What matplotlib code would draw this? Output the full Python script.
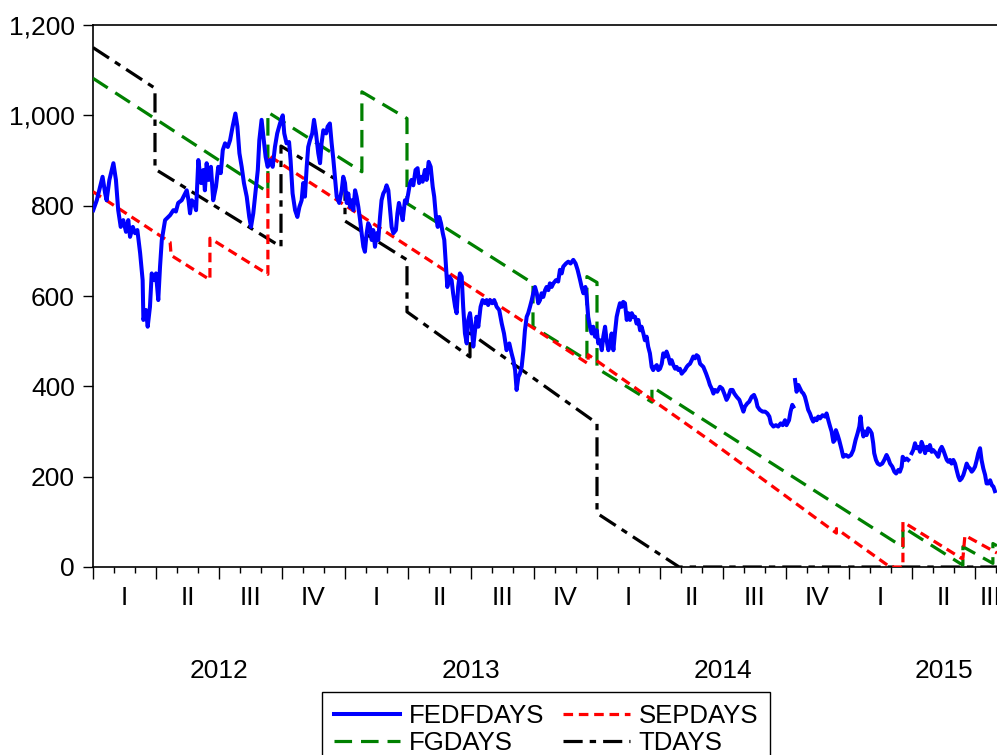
import numpy as np
import matplotlib
matplotlib.use("Agg")
import matplotlib.pyplot as plt
from matplotlib.ticker import FuncFormatter, FixedLocator
import matplotlib.transforms as mtransforms

plt.rcParams['font.family'] = ['Liberation Sans', 'DejaVu Sans']

# time axis: years since 1 Jan 2012
FEDFDAYS = [
    (0.001, 790), (0.015, 812), (0.038, 864), (0.048, 828), (0.054, 812), (0.065, 857),
    (0.081, 894), (0.091, 857), (0.100, 790), (0.110, 753), (0.120, 768), (0.131, 742),
    (0.140, 768), (0.147, 731), (0.158, 753), (0.167, 739), (0.176, 746), (0.187, 695),
    (0.197, 635), (0.200, 547), (0.210, 569), (0.217, 532), (0.226, 576), (0.233, 650),
    (0.243, 635), (0.250, 650), (0.259, 591), (0.266, 665), (0.273, 724), (0.286, 768),
    (0.306, 779), (0.319, 790), (0.329, 787), (0.338, 806), (0.352, 812), (0.362, 823),
    (0.372, 834), (0.379, 812), (0.385, 783), (0.392, 812), (0.401, 806), (0.409, 790),
    (0.418, 901), (0.429, 850), (0.438, 879), (0.444, 834), (0.451, 894), (0.459, 857),
    (0.468, 886), (0.477, 812), (0.488, 842), (0.497, 886), (0.507, 872), (0.515, 923),
    (0.524, 938), (0.535, 930), (0.544, 945), (0.554, 975), (0.565, 1004), (0.573, 975),
    (0.581, 916), (0.590, 886), (0.599, 850), (0.610, 820), (0.620, 775), (0.627, 753),
    (0.636, 783), (0.643, 820), (0.654, 879), (0.660, 945), (0.669, 990), (0.675, 960),
    (0.685, 908), (0.693, 886), (0.702, 901), (0.713, 886), (0.722, 930), (0.731, 960),
    (0.742, 982), (0.753, 1000), (0.759, 960), (0.768, 938), (0.778, 941), (0.784, 901),
    (0.792, 827), (0.802, 790), (0.811, 775), (0.819, 797), (0.828, 812), (0.834, 850),
    (0.841, 820), (0.848, 886), (0.854, 930), (0.861, 945), (0.870, 960), (0.877, 990),
    (0.885, 960), (0.894, 916), (0.901, 894), (0.907, 938), (0.914, 967), (0.925, 960),
    (0.931, 975), (0.940, 982), (0.947, 938), (0.954, 901), (0.960, 864), (0.967, 820),
    (0.977, 806), (0.987, 834), (0.993, 864), (1.000, 850), (1.007, 806), (1.013, 827),
    (1.020, 797), (1.027, 812), (1.033, 790), (1.040, 834), (1.046, 820), (1.053, 797),
    (1.060, 768), (1.066, 739), (1.073, 709), (1.079, 698), (1.086, 739), (1.092, 761),
    (1.099, 753), (1.106, 724), (1.112, 746), (1.119, 709), (1.126, 739), (1.132, 724),
    (1.139, 775), (1.145, 812), (1.152, 827), (1.159, 834), (1.165, 845), (1.172, 834),
    (1.179, 790), (1.185, 753), (1.192, 739), (1.202, 746), (1.208, 783), (1.214, 806),
    (1.221, 790), (1.229, 768), (1.238, 812), (1.244, 806), (1.251, 827), (1.258, 850),
    (1.264, 857), (1.271, 845), (1.280, 879), (1.288, 883), (1.294, 850), (1.302, 864),
    (1.308, 853), (1.317, 879), (1.324, 857), (1.332, 897), (1.340, 886), (1.348, 842),
    (1.354, 820), (1.361, 775), (1.368, 753), (1.374, 775), (1.381, 761), (1.388, 739),
    (1.394, 724), (1.401, 665), (1.406, 620), (1.414, 643), (1.423, 635), (1.429, 606),
    (1.437, 576), (1.443, 562), (1.449, 620), (1.456, 650), (1.463, 643), (1.469, 576),
    (1.476, 517), (1.483, 495), (1.489, 547), (1.496, 562), (1.503, 532), (1.509, 488),
    (1.516, 524), (1.522, 554), (1.529, 532), (1.538, 576), (1.546, 591), (1.556, 584),
    (1.562, 591), (1.568, 580), (1.575, 591), (1.584, 584), (1.592, 591), (1.602, 576),
    (1.612, 569), (1.622, 539), (1.631, 517), (1.641, 480), (1.652, 495), (1.661, 473),
    (1.668, 458), (1.675, 436), (1.681, 392), (1.688, 421), (1.694, 428), (1.701, 443),
    (1.708, 480), (1.714, 524), (1.721, 554), (1.727, 562), (1.734, 576), (1.741, 591),
    (1.747, 606), (1.754, 620), (1.761, 606), (1.767, 584), (1.774, 591), (1.780, 606),
    (1.787, 598), (1.794, 613), (1.800, 620), (1.807, 613), (1.813, 628), (1.820, 620),
    (1.827, 628), (1.837, 635), (1.846, 632), (1.853, 658), (1.860, 650), (1.866, 665),
    (1.877, 672), (1.886, 676), (1.895, 672), (1.906, 680), (1.915, 672), (1.923, 658),
    (1.933, 635), (1.939, 620), (1.946, 606), (1.954, 620), (1.959, 598), (1.965, 554),
    (1.972, 532), (1.979, 517), (1.985, 532), (1.992, 510), (1.999, 524), (2.005, 495),
    (2.012, 502), (2.019, 480), (2.025, 510), (2.032, 532), (2.038, 502), (2.045, 480),
    (2.052, 495), (2.058, 517), (2.065, 480), (2.071, 517), (2.078, 554), (2.084, 569),
    (2.091, 584), (2.098, 576), (2.104, 587), (2.111, 584), (2.118, 547), (2.124, 562),
    (2.131, 547), (2.138, 562), (2.144, 554), (2.151, 554), (2.157, 539), (2.164, 547),
    (2.171, 524), (2.177, 532), (2.184, 517), (2.190, 502), (2.197, 510), (2.203, 488),
    (2.210, 473), (2.217, 443), (2.223, 436), (2.230, 443), (2.237, 447), (2.243, 436),
    (2.250, 439), (2.257, 450), (2.263, 473), (2.270, 466), (2.276, 477), (2.283, 466),
    (2.290, 450), (2.296, 458), (2.303, 447), (2.310, 439), (2.316, 443), (2.323, 436),
    (2.329, 439), (2.336, 428), (2.342, 432), (2.349, 436), (2.356, 443), (2.362, 447),
    (2.369, 450), (2.376, 458), (2.382, 466), (2.389, 462), (2.395, 469), (2.402, 466),
    (2.409, 450), (2.422, 443), (2.433, 428), (2.442, 414), (2.448, 403), (2.455, 395),
    (2.462, 384), (2.468, 392), (2.477, 388), (2.488, 399), (2.497, 395), (2.505, 384),
    (2.514, 370), (2.521, 377), (2.530, 392), (2.538, 392), (2.545, 384), (2.554, 377),
    (2.565, 370), (2.574, 355), (2.581, 344), (2.587, 355), (2.596, 362), (2.604, 366),
    (2.614, 377), (2.623, 381), (2.631, 370), (2.637, 355), (2.646, 348), (2.657, 344),
    (2.667, 344), (2.676, 340), (2.684, 333), (2.690, 318), (2.700, 311), (2.710, 314),
    (2.719, 311), (2.729, 318), (2.737, 314), (2.746, 325), (2.752, 314), (2.762, 325),
    (2.768, 344), (2.775, 359), (2.779, 355), (2.782, np.nan), (2.786, 414), (2.792, 388),
    (2.799, 403), (2.806, 395), (2.812, 388), (2.819, 384), (2.825, 377), (2.832, 362),
    (2.838, 348), (2.845, 340), (2.852, 329), (2.858, 322), (2.865, 329), (2.872, 325),
    (2.878, 333), (2.885, 329), (2.895, 336), (2.905, 333), (2.911, 340), (2.918, 325),
    (2.925, 311), (2.931, 300), (2.938, 277), (2.944, 281), (2.948, 303), (2.955, 292),
    (2.961, 281), (2.971, 259), (2.977, 244), (2.988, 248), (2.997, 244), (3.008, 248),
    (3.017, 259), (3.026, 281), (3.034, 296), (3.041, 311), (3.046, 333), (3.050, 311),
    (3.057, 289), (3.063, 300), (3.070, 292), (3.076, 307), (3.083, 303), (3.090, 296),
    (3.096, 274), (3.100, 252), (3.107, 237), (3.114, 229), (3.123, 226), (3.132, 229),
    (3.140, 237), (3.149, 248), (3.156, 240), (3.163, 229), (3.172, 222), (3.180, 211),
    (3.187, 207), (3.196, 215), (3.202, 211), (3.209, 222), (3.213, 244), (3.222, 237),
    (3.229, 240), (3.235, 237), (3.242, np.nan), (3.249, 252), (3.255, 259), (3.262, 274),
    (3.268, 263), (3.275, 266), (3.282, 255), (3.288, 277), (3.295, 266), (3.302, 252),
    (3.308, 266), (3.315, 259), (3.321, 270), (3.328, 255), (3.334, 259), (3.345, 252),
    (3.354, 244), (3.361, 259), (3.368, 266), (3.374, 259), (3.381, 248), (3.388, 237),
    (3.394, 233), (3.401, 237), (3.407, 229), (3.414, 237), (3.421, 229), (3.427, 215),
    (3.434, 200), (3.440, 192), (3.447, 196), (3.454, 204), (3.460, 215), (3.467, 229),
    (3.473, 222), (3.480, 218), (3.487, 211), (3.493, 215), (3.500, 222), (3.507, 237),
    (3.513, 252), (3.520, 263), (3.526, 237), (3.533, 218), (3.540, 204), (3.546, 185),
    (3.553, 185), (3.560, 192), (3.567, 181), (3.573, 178), (3.579, 168),
]

SEPDAYS = [
    (0.000, 831), (0.306, 719), (0.310, 690), (0.464, 636), (0.464, 728), (0.694, 648),
    (0.694, 912), (1.965, 450), (1.965, 470), (2.448, 280), (2.950, 75), (2.950, 85),
    (3.163, 0), (3.214, 0), (3.214, 100), (3.447, 19), (3.452, 19), (3.460, 70),
    (3.587, 31),
]

FGDAYS = [
    (0.000, 1082), (0.694, 830), (0.694, 1007), (1.067, 875), (1.067, 1052),
    (1.246, 993), (1.246, 805), (1.746, 628), (1.746, 532), (1.960, 458),
    (1.960, 643), (2.000, 630), (2.000, 440), (2.218, 365), (2.218, 399),
    (3.214, 44), (3.214, 88), (3.452, 4), (3.452, 45), (3.571, 8), (3.571, 52),
    (3.587, 47),
]

TDAYS = [
    (0.000, 1150), (0.246, 1060), (0.246, 881), (0.746, 709), (0.746, 932),
    (1.000, 846), (1.000, 766), (1.246, 680), (1.246, 565), (1.496, 465),
    (1.496, 518), (2.000, 318), (2.000, 119), (2.326, 0), (3.587, 0),
]

quarter_names = ['I', 'II', 'III', 'IV']
year_names = ['2012', '2013', '2014', '2015']
y_ticks = [0, 200, 400, 600, 800, 1000, 1200]

X_MAX = 3.62
W, H = 997, 755
fig = plt.figure(figsize=(W / 100, H / 100), dpi=100)
ax = fig.add_axes([93 / W, 1 - 567 / H, X_MAX * 252 / W, 542 / H])


def unzip(pts):
    a = np.array(pts, dtype=float)
    return a[:, 0], a[:, 1]


t, v = unzip(TDAYS)
ax.plot(t, v, color='black', lw=2.3, linestyle=(0, (6, 2.2, 2, 2.2)), label='TDAYS', zorder=2)
t, v = unzip(FGDAYS)
ax.plot(t, v, color='#008000', lw=2.3, linestyle=(0, (5.5, 2.8)), label='FGDAYS', zorder=3)
t, v = unzip(SEPDAYS)
ax.plot(t, v, color='#ff0000', lw=2.3, linestyle=(0, (3, 1.8)), label='SEPDAYS', zorder=4)
t, v = unzip(FEDFDAYS)
ax.plot(t, v, color='#0000ff', lw=2.9, solid_joinstyle='round', label='FEDFDAYS', zorder=5)

ax.set_xlim(0, X_MAX)
ax.set_ylim(0, 1200)

for s in ['left', 'top', 'bottom', 'right']:
    ax.spines[s].set_linewidth(1.2)
    ax.spines[s].set_color('black')

ax.yaxis.set_major_locator(FixedLocator(y_ticks))
ax.yaxis.set_major_formatter(FuncFormatter(lambda x, p: f"{int(x):,}"))
ax.tick_params(axis='y', direction='out', length=7, width=1.0, pad=6, labelsize=19, colors='black')

q_edges = [i * 0.25 for i in range(15)]
m_edges = [i / 12 for i in range(44)]
ax.xaxis.set_major_locator(FixedLocator(q_edges))
ax.xaxis.set_minor_locator(FixedLocator(m_edges))
ax.tick_params(axis='x', which='major', direction='out', length=8.5, width=1.0, labelbottom=False)
ax.tick_params(axis='x', which='minor', direction='out', length=4.5, width=1.0)

trans = mtransforms.blended_transform_factory(ax.transData, ax.transAxes)
for yi, yname in enumerate(year_names):
    for qi, qname in enumerate(quarter_names):
        start = yi + qi * 0.25
        if start >= X_MAX:
            continue
        center = (start + min(start + 0.25, X_MAX)) / 2
        ax.text(center, -31 / 542, qname, transform=trans, ha='center', va='center',
                fontsize=19, clip_on=False)
    ycenter = yi + 0.5 if yi < 3 else 3.375
    ax.text(ycenter, -104 / 542, yname, transform=trans, ha='center', va='center',
            fontsize=19, clip_on=False)

handles, labels = ax.get_legend_handles_labels()
order = ['FEDFDAYS', 'FGDAYS', 'SEPDAYS', 'TDAYS']
hmap = dict(zip(labels, handles))
leg = fig.legend([hmap[k] for k in order], order, ncol=2, loc='upper left',
                 bbox_to_anchor=(322 / W, 1 - 692 / H), borderaxespad=0,
                 fontsize=18.5, frameon=True, fancybox=False, framealpha=1,
                 edgecolor='black', handlelength=2.6, handletextpad=0.35,
                 columnspacing=0.7, labelspacing=0.12, borderpad=0.45)
leg.get_frame().set_linewidth(1.0)

fig.savefig('out.png', dpi=100)
